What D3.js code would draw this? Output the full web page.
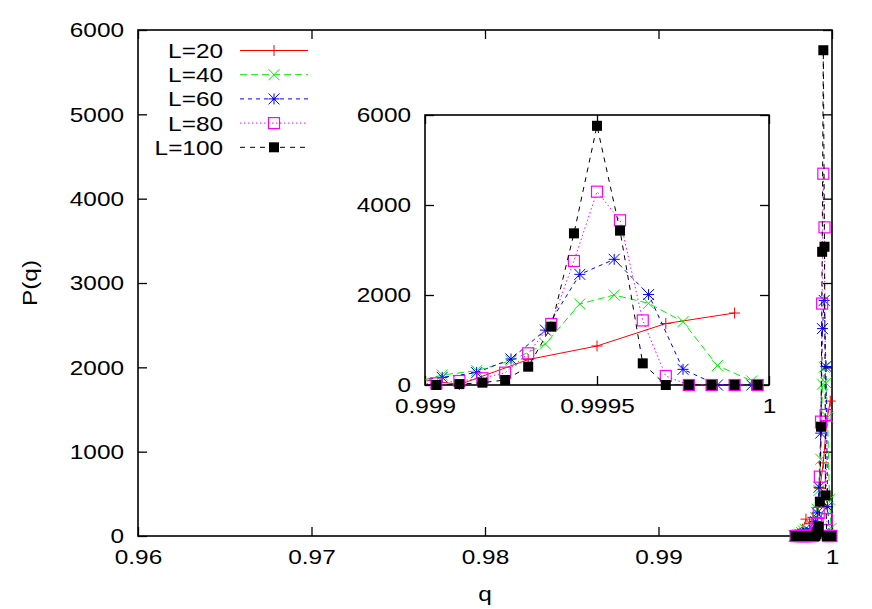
<!DOCTYPE html>
<html><head><meta charset="utf-8">
<script src="https://cdn.jsdelivr.net/npm/d3@7/dist/d3.min.js"></script>
<style>
body{margin:0;background:#fff}
text{font-family:"Liberation Sans",Arial,Helvetica,sans-serif;font-size:21px;fill:#000}
</style></head><body>
<svg id="chart" width="872" height="609"></svg>
<script>
// ---------------- data ----------------
const seriesNames = ["L=20","L=40","L=60","L=80","L=100"];

const qL20 = [0.9979,0.9981,0.9983,0.9985,0.9987,0.9989,0.9991,0.9993,0.9995,0.9997,0.9999];
const pL20 = [0,20,80,200,150,220,10,565,867,1365,1600];

const qL40 = [0.99785,0.99795,0.99805,0.99815,0.99825,0.99835,0.99845,0.99855,0.99865,0.99875,0.99885,0.99895,
              0.99905,0.99915,0.99925,0.99935,0.99945,0.99955,0.99965,0.99975,0.99985,0.99995];
const pL40 = [0,0,10,20,40,60,80,70,60,40,30,20,
              222,318,540,911,1800,2000,1815,1407,430,90];

const qL60 = [0.99785,0.99795,0.99805,0.99815,0.99825,0.99835,0.99845,0.99855,0.99865,0.99875,0.99885,0.99895,
              0.99905,0.99915,0.99925,0.99935,0.99945,0.99955,0.99965,0.99975,0.99985,0.99995];
const pL60 = [0,0,0,0,10,20,30,40,30,50,40,70,
              170,274,578,1220,2459,2793,2010,348,0,0];

const qL80 = [0.997900,0.997967,0.998033,0.998100,0.998167,0.998233,0.998300,0.998367,0.998433,0.998500,
              0.998567,0.998633,0.998700,0.998767,0.998833,0.998900,0.998967,
              0.999033,0.999100,0.999167,0.999233,0.999300,0.999367,0.999433,0.999500,0.999567,
              0.999633,0.999700,0.999767,0.999833,0.999900,0.999967];
const pL80 = [0,0,0,0,0,0,0,0,0,0,0,0,0,0,0,0,10,
              37,89,150,274,704,1356,2756,4296,3660,1435,200,0,0,0,0];

const qL100 = [0.997900,0.997967,0.998033,0.998100,0.998167,0.998233,0.998300,0.998367,0.998433,0.998500,
               0.998567,0.998633,0.998700,0.998767,0.998833,0.998900,0.998967,
               0.999033,0.999100,0.999167,0.999233,0.999300,0.999367,0.999433,0.999500,0.999567,
               0.999633,0.999700,0.999767,0.999833,0.999900,0.999967];
const pL100 = [0,0,0,0,0,0,0,0,0,0,0,0,0,0,0,0,0,
               0,20,52,111,407,1296,3370,5760,3430,481,0,0,0,0,0];

const mainXTicks = [0.96,0.97,0.98,0.99,1];
const mainXTickLabels = ["0.96","0.97","0.98","0.99","1"];
const mainYTicks = [0,1000,2000,3000,4000,5000,6000];
const mainYTickLabels = ["0","1000","2000","3000","4000","5000","6000"];
const insetXTicks = [0.999,0.9995,1];
const insetXTickLabels = ["0.999","0.9995","1"];
const insetYTicks = [0,2000,4000,6000];
const insetYTickLabels = ["0","2000","4000","6000"];

const xLabel = "q";
const yLabel = "P(q)";

// ---------------- build ----------------
const qs = [qL20,qL40,qL60,qL80,qL100];
const ps = [pL20,pL40,pL60,pL80,pL100];
const series = seriesNames.map((name,i)=>({name, values: qs[i].map((q,j)=>({q, p: ps[i][j]}))}));

const colors = ["#ff0000","#00ee00","#0000ff","#ff00ff","#000000"];
const dashes = [null,"7,4","4,4","1.5,2.5","5,5"];
const markers = ["plus","cross","star","osquare","fsquare"];

const svg = d3.select("#chart");
const M = {left:138,right:832,top:30,bottom:536};
const I = {left:425,right:769,top:115,bottom:385};
const TICK = 9;
const STRETCH = 1.16;

const x = d3.scaleLinear().domain([0.96,1]).range([M.left,M.right]);
const y = d3.scaleLinear().domain([0,6000]).range([M.bottom,M.top]);
const xi = d3.scaleLinear().domain([0.999,1]).range([I.left,I.right]);
const yi = d3.scaleLinear().domain([0,6000]).range([I.bottom,I.top]);

function drawMarker(g, type, color){
  const h = 5.5;
  if(type==="plus"){
    g.append("path").attr("d",`M${-h},0H${h}M0,${-h}V${h}`).attr("stroke",color).attr("stroke-width",1).attr("fill","none");
  } else if(type==="cross"){
    g.append("path").attr("d",`M${-h},${-h}L${h},${h}M${-h},${h}L${h},${-h}`).attr("stroke",color).attr("stroke-width",1).attr("fill","none");
  } else if(type==="star"){
    g.append("path").attr("d",`M${-h},0H${h}M0,${-h}V${h}M${-h},${-h}L${h},${h}M${-h},${h}L${h},${-h}`).attr("stroke",color).attr("stroke-width",1).attr("fill","none");
  } else if(type==="osquare"){
    g.append("rect").attr("x",-5.5).attr("y",-5.5).attr("width",11).attr("height",11).attr("stroke",color).attr("stroke-width",1.2).attr("fill","none");
  } else {
    g.append("rect").attr("x",-5).attr("y",-5).attr("width",10).attr("height",10).attr("fill",color);
  }
}

function frameAxes(box, xs, ys, xt, xtl, yt, ytl){
  const gx = svg.append("g").attr("transform",`translate(0,${box.bottom})`)
    .call(d3.axisBottom(xs).tickValues(xt).tickFormat((d,i)=>xtl[i]).tickSize(-TICK).tickPadding(13));
  const gxt = svg.append("g").attr("transform",`translate(0,${box.top})`)
    .call(d3.axisTop(xs).tickValues(xt).tickFormat("").tickSize(-TICK));
  const gy = svg.append("g").attr("transform",`translate(${box.left},0)`)
    .call(d3.axisLeft(ys).tickValues(yt).tickFormat((d,i)=>ytl[i]).tickSize(-TICK).tickPadding(14));
  const gyr = svg.append("g").attr("transform",`translate(${box.right},0)`)
    .call(d3.axisRight(ys).tickValues(yt).tickFormat("").tickSize(-TICK));
  [gx,gxt,gy,gyr].forEach(g=>{
    g.select(".domain").remove();
    g.selectAll(".tick line").attr("stroke","#000").attr("stroke-width",1.3);
    g.selectAll(".tick text").attr("font-size",21).attr("font-family",null);
  });
  svg.append("rect").attr("x",box.left).attr("y",box.top)
    .attr("width",box.right-box.left).attr("height",box.bottom-box.top)
    .attr("fill","none").attr("stroke","#000").attr("stroke-width",1.6);
}

function drawSeries(xs, ys, clipId, inRange){
  const line = d3.line().x(d=>xs(d.q)).y(d=>ys(d.p));
  series.forEach((s,i)=>{
    const g = svg.append("g");
    const path = g.append("path").datum(s.values).attr("d",line)
      .attr("fill","none").attr("stroke",colors[i]).attr("stroke-width",1);
    if(dashes[i]) path.attr("stroke-dasharray",dashes[i]);
    if(clipId) path.attr("clip-path",`url(#${clipId})`);
    s.values.filter(inRange).forEach(d=>{
      const mg = g.append("g").attr("transform",`translate(${xs(d.q)},${ys(d.p)})`);
      drawMarker(mg, markers[i], colors[i]);
    });
  });
}

// main plot
svg.append("rect").attr("width",872).attr("height",609).attr("fill","#fff");
frameAxes(M, x, y, mainXTicks, mainXTickLabels, mainYTicks, mainYTickLabels);
drawSeries(x, y, null, d=>true);

// axis labels
svg.append("text").attr("x",(M.left+M.right)/2).attr("y",601).attr("text-anchor","middle").text(xLabel);
svg.append("text").attr("transform",`translate(37,${(M.top+M.bottom)/2}) rotate(-90)`).attr("text-anchor","middle").text(yLabel);

// legend
const legY0 = 50.5, legStep = 24.2;
seriesNames.forEach((name,i)=>{
  const yy = legY0 + i*legStep;
  svg.append("text").attr("x",223).attr("y",yy+7.5).attr("text-anchor","end").text(name);
  const ln = svg.append("line").attr("x1",240).attr("x2",308).attr("y1",yy).attr("y2",yy)
    .attr("stroke",colors[i]).attr("stroke-width",1);
  if(dashes[i]) ln.attr("stroke-dasharray",dashes[i]);
  const mg = svg.append("g").attr("transform",`translate(274,${yy})`);
  drawMarker(mg, markers[i], colors[i]);
});

// inset
svg.append("defs").append("clipPath").attr("id","insetClip").append("rect")
  .attr("x",I.left).attr("y",I.top).attr("width",I.right-I.left).attr("height",I.bottom-I.top);
svg.append("rect").attr("x",I.left).attr("y",I.top).attr("width",I.right-I.left).attr("height",I.bottom-I.top).attr("fill","#fff");
frameAxes(I, xi, yi, insetXTicks, insetXTickLabels, insetYTicks, insetYTickLabels);
drawSeries(xi, yi, "insetClip", d=>d.q>=0.999 && d.q<=1);

// widen glyphs horizontally to match the reference's wider lettering
svg.selectAll("text").each(function(){
  const w = this.getComputedTextLength();
  if(w>0) d3.select(this).attr("textLength", (w*STRETCH).toFixed(2)).attr("lengthAdjust","spacingAndGlyphs");
});
</script>
</body></html>
